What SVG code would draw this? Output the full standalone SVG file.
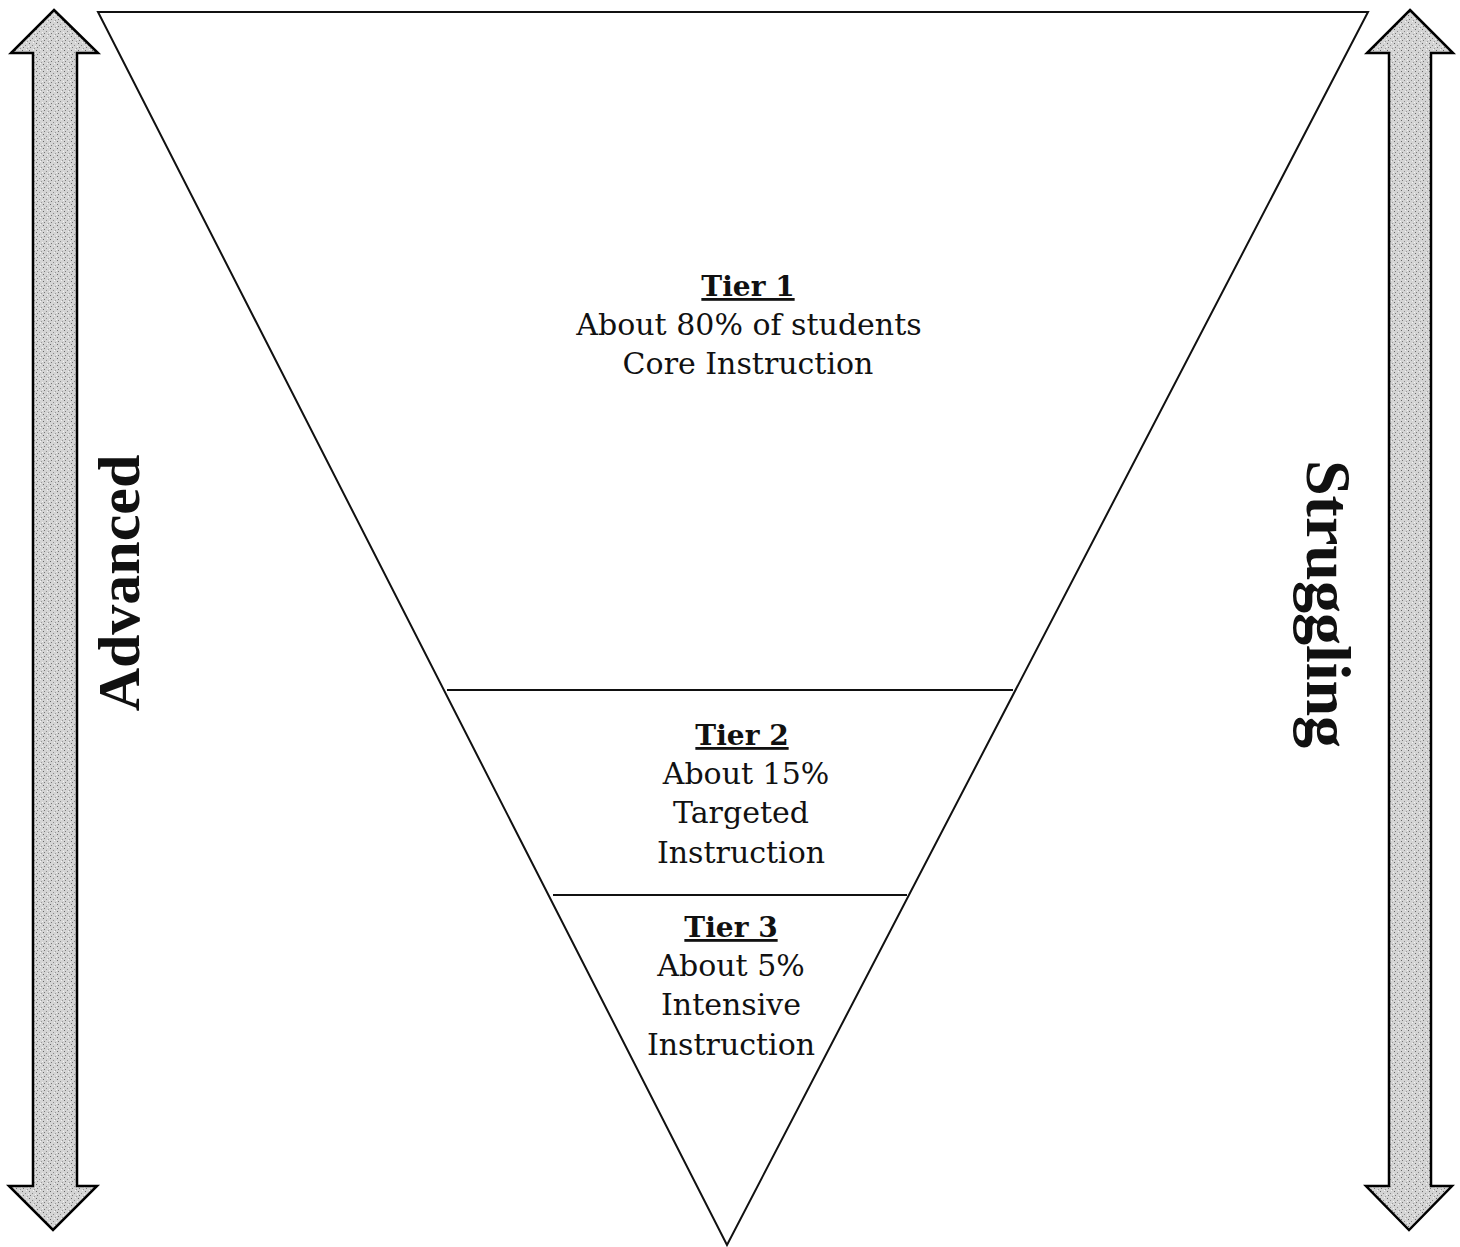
<svg xmlns="http://www.w3.org/2000/svg" width="1460" height="1247" viewBox="0 0 1460 1247">
<style>
.body{font-family:"DejaVu Serif","Liberation Serif",serif;font-size:30px;fill:#111;text-anchor:middle}
.tier{font-family:"DejaVu Serif","Liberation Serif",serif;font-size:28px;font-weight:bold;fill:#111;text-anchor:middle;text-decoration:underline}
.side{font-family:"Liberation Serif","DejaVu Serif",serif;font-weight:bold;fill:#111;text-anchor:middle}
.arrow{fill:url(#stipple);stroke:#000;stroke-width:2.5;stroke-linejoin:miter}
.edge{fill:none;stroke:#111;stroke-width:2}
</style>
<defs>
<pattern id="stipple" width="7" height="7" patternUnits="userSpaceOnUse">
<rect width="7" height="7" fill="#d4d4d4"/>
<rect x="1" y="1" width="1" height="1" fill="#666"/>
<rect x="4" y="3" width="1" height="1" fill="#888"/>
<rect x="2" y="5" width="1" height="1" fill="#777"/>
<rect x="5" y="0" width="1" height="1" fill="#f4f4f4"/>
<rect x="0" y="4" width="1" height="1" fill="#f4f4f4"/>
<rect x="6" y="6" width="1" height="1" fill="#999"/>
</pattern>
</defs>
<rect width="1460" height="1247" fill="#fff"/>
<g id="arrow-left">
<path class="arrow" d="M54,10 L98,53 L77,53 L77,1186 L97,1186 L53,1230 L9,1186 L33,1186 L33,53 L11,53 Z"/>
</g>
<g id="arrow-right">
<path class="arrow" d="M1410,10 L1453,53 L1431,53 L1431,1186 L1452,1186 L1409,1230 L1366,1186 L1389,1186 L1389,53 L1367,53 Z"/>
</g>
<g id="funnel">
<polygon class="edge" points="98,12 1368,12 727,1245"/>
</g>
<g id="connectors">
<line class="edge" x1="447" y1="690" x2="1013" y2="690"/>
<line class="edge" x1="553" y1="895" x2="907" y2="895"/>
</g>
<g id="tier1">
<text class="tier" x="748" y="296">Tier 1</text>
<text class="body" x="749" y="335">About 80% of students</text>
<text class="body" x="748" y="374">Core Instruction</text>
</g>
<g id="tier2">
<text class="tier" x="742" y="745">Tier 2</text>
<text class="body" x="746" y="784">About 15%</text>
<text class="body" x="741" y="823">Targeted</text>
<text class="body" x="741" y="863">Instruction</text>
</g>
<g id="tier3">
<text class="tier" x="731" y="937">Tier 3</text>
<text class="body" x="731" y="976">About 5%</text>
<text class="body" x="731" y="1015">Intensive</text>
<text class="body" x="731" y="1055">Instruction</text>
</g>
<g id="label-advanced">
<text class="side" font-size="60" transform="translate(139,583) rotate(-90)">Advanced</text>
</g>
<g id="label-struggling">
<text class="side" font-size="64" transform="translate(1307,604) rotate(90)">Struggling</text>
</g>
</svg>
